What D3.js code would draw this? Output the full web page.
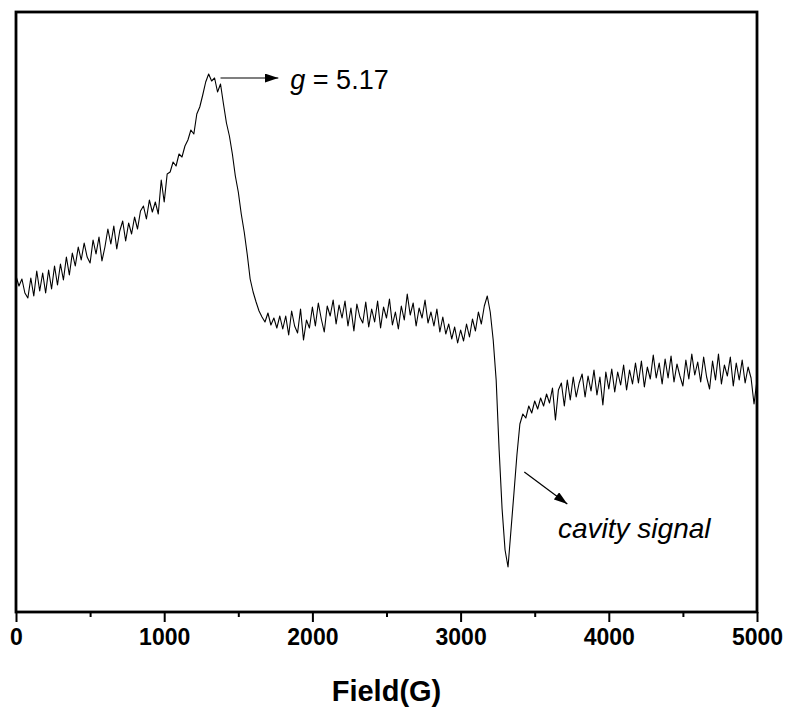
<!DOCTYPE html>
<html>
<head>
<meta charset="utf-8">
<script src="https://cdn.jsdelivr.net/npm/d3@7"></script>
<style>
  html, body { margin: 0; padding: 0; background: #fff; }
  svg { display: block; font-family: "Liberation Sans", Arial, sans-serif; }
</style>
</head>
<body>
<div id="chart"></div>
<script>
"use strict";

// EPR spectrum, field sweep 0..5000 G in 20 G steps (intensity in arbitrary units)
const FIELD_START = 0;
const FIELD_STEP = 20;
const intensity = [
  336, 326, 333, 319, 314, 334, 316, 341, 321, 339,
  319, 342, 323, 346, 327, 348, 332, 355, 337, 359,
  346, 365, 352, 369, 355, 349, 372, 358, 375, 351,
  365, 383, 368, 386, 363, 381, 391, 371, 389, 378,
  395, 383, 401, 406, 393, 412, 400, 410, 398, 432,
  410, 438, 440, 450, 446, 458, 455, 466, 472, 482,
  478, 498, 505, 517, 530, 538, 531, 534, 520, 528,
  508, 489, 476, 458, 436, 420, 398, 380, 358, 333,
  320, 310, 301, 295, 290, 299, 287, 294, 284, 296,
  283, 296, 277, 301, 286, 279, 303, 272, 292, 284,
  305, 286, 309, 293, 280, 306, 296, 312, 288, 307,
  294, 311, 286, 304, 281, 308, 295, 289, 310, 285,
  303, 290, 311, 284, 305, 294, 313, 287, 300, 283,
  306, 292, 318, 297, 309, 286, 304, 294, 312, 289,
  300, 286, 303, 280, 295, 278, 288, 273, 285, 269,
  282, 271, 288, 275, 293, 281, 300, 288, 306, 316,
  300, 272, 232, 162, 103, 62, 45, 82, 119, 157,
  188, 198, 194, 206, 199, 211, 203, 214, 206, 218,
  209, 224, 192, 222, 229, 206, 232, 212, 235, 215,
  229, 238, 215, 236, 221, 242, 217, 235, 207, 240,
  223, 243, 220, 240, 227, 247, 222, 242, 228, 249,
  229, 251, 225, 245, 233, 257, 234, 249, 228, 253,
  234, 256, 230, 248, 236, 226, 252, 233, 258, 237,
  250, 230, 255, 235, 223, 251, 232, 258, 228, 247,
  236, 255, 226, 249, 232, 252, 229, 245, 234, 208, 232
];

const xMajorTicks = [0, 1000, 2000, 3000, 4000, 5000];
const xMinorTicks = [500, 1500, 2500, 3500, 4500];

// annotations: [field, intensity] of arrow start / end
const peakLabel = "5.17";
const peakArrow = [[1380, 534], [1770, 534]];
const cavityLabel = "cavity signal";
const cavityArrow = [[3430, 140], [3720, 108]];

const W = 789, H = 709;
const plot = { left: 16, top: 12, right: 757, bottom: 612 };

const data = intensity.map((v, i) => ({ field: FIELD_START + i * FIELD_STEP, v: v }));

const x = d3.scaleLinear().domain([0, 5000]).range([plot.left, plot.right]);
const y = d3.scaleLinear().domain([0, 600]).range([plot.bottom, plot.top]);

const svg = d3.select("#chart").append("svg")
  .attr("width", W)
  .attr("height", H);

const defs = svg.append("defs");
defs.append("marker")
  .attr("id", "arrow")
  .attr("viewBox", "0 0 12 8")
  .attr("refX", 12).attr("refY", 4)
  .attr("markerWidth", 14).attr("markerHeight", 9)
  .attr("markerUnits", "userSpaceOnUse")
  .attr("orient", "auto")
  .append("path")
  .attr("d", "M0,0 L12,4 L0,8 Z")
  .attr("fill", "#000");

// spectrum
svg.append("path")
  .datum(data)
  .attr("fill", "none")
  .attr("stroke", "#000")
  .attr("stroke-width", 1.1)
  .attr("stroke-linejoin", "round")
  .attr("d", d3.line().x((d) => x(d.field)).y((d) => y(d.v)));

// x axis: major ticks with labels, minor ticks without
const xAxis = svg.append("g")
  .attr("transform", `translate(0,${plot.bottom})`)
  .call(d3.axisBottom(x).tickValues(xMajorTicks).tickSize(10).tickPadding(7).tickFormat(d3.format("d")));
xAxis.select(".domain").remove();
xAxis.selectAll(".tick line").attr("stroke", "#000").attr("stroke-width", 2);
xAxis.selectAll(".tick text")
  .attr("font-family", "'Liberation Sans', Arial, sans-serif")
  .attr("font-size", 23)
  .attr("font-weight", "bold")
  .attr("fill", "#000");

const xMinor = svg.append("g")
  .attr("transform", `translate(0,${plot.bottom})`)
  .call(d3.axisBottom(x).tickValues(xMinorTicks).tickSize(5).tickFormat(""));
xMinor.select(".domain").remove();
xMinor.selectAll(".tick line").attr("stroke", "#000").attr("stroke-width", 2);

// frame
svg.append("rect")
  .attr("x", plot.left).attr("y", plot.top)
  .attr("width", plot.right - plot.left)
  .attr("height", plot.bottom - plot.top)
  .attr("fill", "none")
  .attr("stroke", "#000")
  .attr("stroke-width", 2.8);

// axis title
svg.append("text")
  .attr("x", (plot.left + plot.right) / 2)
  .attr("y", 701)
  .attr("text-anchor", "middle")
  .attr("font-size", 29)
  .attr("font-weight", "bold")
  .text("Field(G)");

// g-value annotation
svg.append("line")
  .attr("x1", x(peakArrow[0][0])).attr("y1", y(peakArrow[0][1]))
  .attr("x2", x(peakArrow[1][0])).attr("y2", y(peakArrow[1][1]))
  .attr("stroke", "#000").attr("stroke-width", 1.2)
  .attr("marker-end", "url(#arrow)");

const gText = svg.append("text")
  .attr("x", x(peakArrow[1][0]) + 12)
  .attr("y", y(peakArrow[1][1]) + 11)
  .attr("font-size", 27);
gText.append("tspan").attr("font-style", "italic").text("g");
gText.append("tspan").text(" = " + peakLabel);

// cavity signal annotation
svg.append("line")
  .attr("x1", x(cavityArrow[0][0])).attr("y1", y(cavityArrow[0][1]))
  .attr("x2", x(cavityArrow[1][0])).attr("y2", y(cavityArrow[1][1]))
  .attr("stroke", "#000").attr("stroke-width", 1.2)
  .attr("marker-end", "url(#arrow)");

svg.append("text")
  .attr("x", 558)
  .attr("y", 538)
  .attr("font-size", 28)
  .attr("font-style", "italic")
  .text(cavityLabel);
</script>
</body>
</html>
